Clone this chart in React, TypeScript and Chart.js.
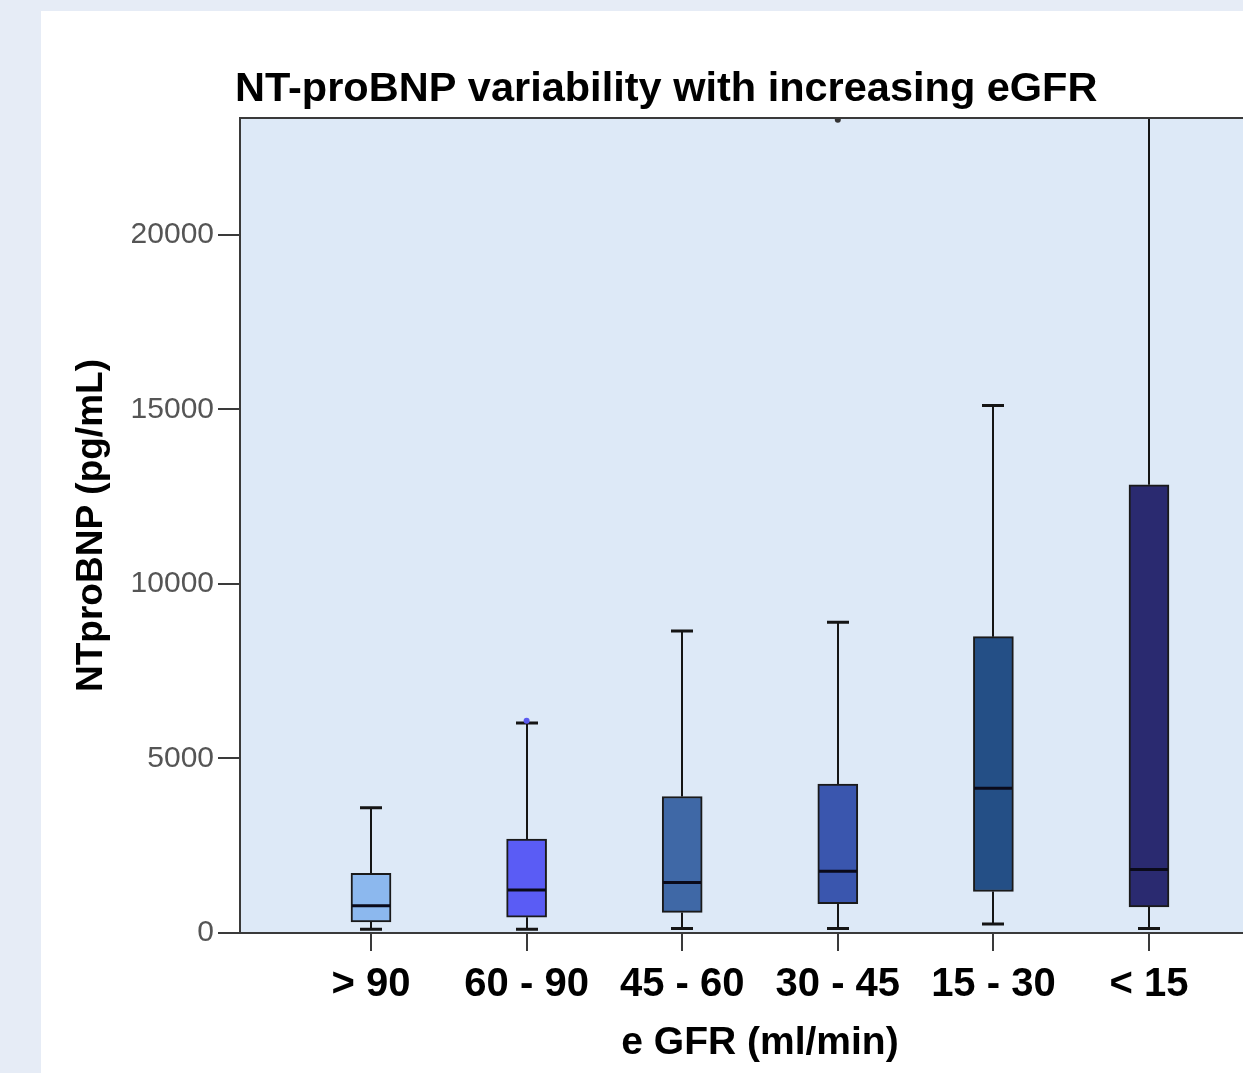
import React, { useEffect, useRef } from 'react';
import { Chart, registerables } from 'chart.js';

Chart.register(...registerables);

// ---- data ----
const categories = ['> 90', '60 - 90', '45 - 60', '30 - 45', '15 - 30', '< 15'];
const whiskerLow = [110, 110, 130, 130, 260, 130];
const q1 = [320, 450, 590, 840, 1190, 750];
const median = [780, 1230, 1450, 1770, 4150, 1820];
const q3 = [1710, 2690, 3910, 4270, 8490, 12840];
const whiskerHigh = [3590, 6020, 8650, 8900, 15110, 26000];
const outlierIndex = [1, 3];
const outlierValue = [6080, 23300];
const outlierColor = ['#5a5af0', '#333333'];
const boxColors = ['#8cb8ee', '#5a5cf5', '#3f68a6', '#3a56ae', '#244f86', '#2a2a70'];
const yTicks = [0, 5000, 10000, 15000, 20000];

const titleText = 'NT-proBNP variability with increasing eGFR';
const yTitle = 'NTproBNP (pg/mL)';
const xTitle = 'e GFR (ml/min)';

const PLOT_BG = '#dde9f7';
const PAGE_BG = '#e6ecf6';
const CANVAS_W = 1250;
const CANVAS_H = 1062;

export default function App() {
  const ref = useRef<HTMLCanvasElement>(null);

  useEffect(() => {
    document.body.style.margin = '0';
    document.body.style.overflow = 'hidden';
    const canvas = ref.current!;

    const extras = {
      id: 'boxExtras',
      beforeDraw(chart: any) {
        const { ctx, chartArea: a } = chart;
        ctx.save();
        ctx.fillStyle = PLOT_BG;
        ctx.fillRect(a.left, a.top, a.right - a.left, a.bottom - a.top);
        ctx.restore();
      },
      afterDatasetsDraw(chart: any) {
        const { ctx, chartArea: a, scales } = chart;
        const x = scales.x;
        const y = scales.y;
        ctx.save();
        ctx.beginPath();
        ctx.rect(a.left, a.top, a.right - a.left, a.bottom - a.top);
        ctx.clip();
        const half = 20;
        const cap = 11;
        categories.forEach((_, i) => {
          const cx = Math.round(x.getPixelForValue(i));
          const yLo = y.getPixelForValue(whiskerLow[i]);
          const yQ1 = y.getPixelForValue(q1[i]);
          const yMed = y.getPixelForValue(median[i]);
          const yQ3 = y.getPixelForValue(q3[i]);
          const yHi = y.getPixelForValue(whiskerHigh[i]);
          ctx.strokeStyle = '#151515';
          ctx.lineWidth = 2;
          ctx.beginPath();
          ctx.moveTo(cx, yQ3);
          ctx.lineTo(cx, yHi);
          ctx.moveTo(cx, yQ1);
          ctx.lineTo(cx, yLo);
          ctx.stroke();
          ctx.lineWidth = 3;
          ctx.beginPath();
          ctx.moveTo(cx - cap, yHi);
          ctx.lineTo(cx + cap, yHi);
          ctx.moveTo(cx - cap, yLo);
          ctx.lineTo(cx + cap, yLo);
          ctx.stroke();
          ctx.strokeStyle = '#0a0a1a';
          ctx.lineWidth = 3;
          ctx.beginPath();
          ctx.moveTo(cx - half + 1, yMed);
          ctx.lineTo(cx + half - 1, yMed);
          ctx.stroke();
        });
        outlierIndex.forEach((idx, k) => {
          const cx = x.getPixelForValue(idx);
          const cy = y.getPixelForValue(outlierValue[k]);
          ctx.fillStyle = outlierColor[k];
          ctx.beginPath();
          ctx.arc(cx, cy, 3, 0, Math.PI * 2);
          ctx.fill();
        });
        ctx.restore();
      },
      afterDraw(chart: any) {
        const { ctx, chartArea: a } = chart;
        ctx.save();
        ctx.strokeStyle = '#3a3a3a';
        ctx.lineWidth = 2;
        ctx.strokeRect(a.left, a.top, a.right - a.left, a.bottom - a.top);
        ctx.fillStyle = '#000';
        ctx.font = 'bold 41.5px "Liberation Sans", Arial, sans-serif';
        ctx.textAlign = 'left';
        ctx.textBaseline = 'alphabetic';
        ctx.fillText(titleText, 194, 90);
        ctx.restore();
      },
    };

    const chart = new Chart(canvas, {
      type: 'bar',
      data: {
        datasets: [
          {
            data: categories.map((_, i) => ({ x: i, y: [q1[i], q3[i]] })) as any,
            backgroundColor: boxColors,
            borderColor: '#1a1a1a',
            borderWidth: 2,
            borderSkipped: false,
            barThickness: 40,
          },
        ],
      },
      options: {
        responsive: false,
        animation: false,
        events: [],
        layout: { padding: { top: 107, left: 0, right: CANVAS_W - 1239, bottom: 0 } },
        plugins: {
          legend: { display: false },
          tooltip: { enabled: false },
          title: { display: false },
        },
        scales: {
          x: {
            type: 'linear',
            offset: false,
            min: -0.842,
            max: 5.842,
            afterBuildTicks: (s: any) => {
              s.ticks = categories.map((_, i) => ({ value: i }));
            },
            afterFit: (s: any) => {
              s.height = 140;
            },
            ticks: {
              callback: (v: any) => categories[Math.round(Number(v))],
              color: '#000',
              padding: 10,
              maxRotation: 0,
              autoSkip: false,
              font: { family: '"Liberation Sans", Arial, sans-serif', size: 40, weight: 'bold' },
            },
            grid: { offset: false, drawOnChartArea: false, drawTicks: true, tickLength: 18, color: '#3a3a3a', lineWidth: 2 },
            border: { display: true, color: '#3a3a3a', width: 2 },
            title: {
              display: true,
              text: xTitle,
              color: '#000',
              padding: { top: 0, bottom: 6 },
              font: { family: '"Liberation Sans", Arial, sans-serif', size: 39, weight: 'bold' },
            },
          },
          y: {
            type: 'linear',
            min: 0,
            max: 23350,
            afterBuildTicks: (s: any) => {
              s.ticks = yTicks.map((v) => ({ value: v }));
            },
            afterFit: (s: any) => {
              s.width = 199;
            },
            ticks: {
              color: '#555',
              padding: 4,
              callback: (v: any) => String(v),
              font: { family: '"Liberation Sans", Arial, sans-serif', size: 30 },
            },
            grid: { drawOnChartArea: false, drawTicks: true, tickLength: 22, color: '#3a3a3a', lineWidth: 2 },
            border: { display: true, color: '#3a3a3a', width: 2 },
            title: {
              display: true,
              text: yTitle,
              color: '#000',
              padding: { top: 29, bottom: 0 },
              font: { family: '"Liberation Sans", Arial, sans-serif', size: 37, weight: 'bold' },
            },
          },
        },
      },
      plugins: [extras],
    });

    return () => chart.destroy();
  }, []);

  return (
    <div style={{ width: 1243, height: 1073, background: PAGE_BG, position: 'relative', overflow: 'hidden' }}>
      <div style={{ position: 'absolute', left: 41, top: 11, width: 1202, height: CANVAS_H, background: '#fff', overflow: 'hidden' }}>
        <canvas ref={ref} width={CANVAS_W} height={CANVAS_H} style={{ display: 'block' }} />
      </div>
    </div>
  );
}
